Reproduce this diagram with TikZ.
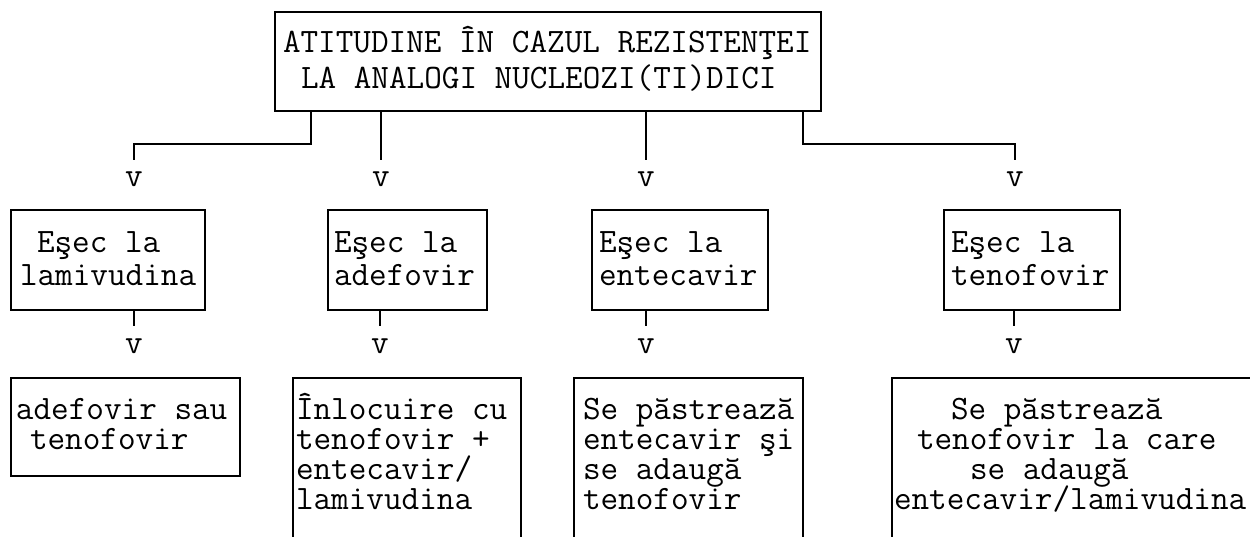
\documentclass[tikz,border=0pt]{standalone}
\usetikzlibrary{calc}
\begin{document}
\begin{tikzpicture}[x=1pt,y=-1pt,
  line width=2pt,
  box/.style={draw=black,line width=2pt,rectangle,inner sep=0pt,outer sep=0pt},
  openbox/.style={rectangle,inner sep=0pt,outer sep=0pt},
  txt/.style={anchor=base west,inner sep=0pt,outer sep=0pt,text height=20pt,text depth=5pt,font=\ttfamily\fontsize{34.2}{36}\selectfont},
  arr/.style={anchor=north,inner xsep=0pt,outer sep=0pt,font=\ttfamily\fontsize{34.2}{36}\selectfont}]
\useasboundingbox (0,0) rectangle (1250,537);
% top box
\node[box,minimum width=546pt,minimum height=99pt] (top) at (548,61.5) {};
\node[txt] (t1) at (283,53) {ATITUDINE ÎN CAZUL REZISTENŢEI};
\node[txt] (t2) at (301,89) {LA ANALOGI NUCLEOZI(TI)DICI};
% first arrow row
\node[arr,inner ysep=12pt] (v1) at (134,160) {v};
\node[arr,inner ysep=12pt] (v2) at (381,160) {v};
\node[arr,inner ysep=12pt] (v3) at (646,160) {v};
\node[arr,inner ysep=12pt] (v4) at (1015,160) {v};
\draw ([xshift=36pt]top.south west) |- ([yshift=16pt]v1.north) -- (v1.north);
\draw (top.south -| v2.north) -- (v2.north);
\draw (top.south -| v3.north) -- (v3.north);
\draw ([xshift=-18pt]top.south east) |- ([yshift=16pt]v4.north) -- (v4.north);
% second row boxes
\node[box,minimum width=194pt,minimum height=100pt] (b1) at (108,260) {};
\node[box,minimum width=159pt,minimum height=100pt] (b2) at (407.5,260) {};
\node[box,minimum width=176pt,minimum height=100pt] (b3) at (680,260) {};
\node[box,minimum width=176pt,minimum height=100pt] (b4) at (1032,260) {};
\node[txt] (b1a) at (37,253) {Eşec la};
\node[txt] (b1b) at (20,286) {lamivudina};
\node[txt] (b2a) at (334,253) {Eşec la};
\node[txt] (b2b) at (334,286) {adefovir};
\node[txt] (b3a) at (599,253) {Eşec la};
\node[txt] (b3b) at (599,286) {entecavir};
\node[txt] (b4a) at (951,253) {Eşec la};
\node[txt] (b4b) at (951,286) {tenofovir};
% second arrow row
\node[arr,inner ysep=13pt] (w1) at (134,326) {v};
\node[arr,inner ysep=13pt] (w2) at (380,326) {v};
\node[arr,inner ysep=13pt] (w3) at (646,326) {v};
\node[arr,inner ysep=13pt] (w4) at (1014,326) {v};
\draw (b1.south -| w1.north) -- (w1.north);
\draw (b2.south -| w2.north) -- (w2.north);
\draw (b3.south -| w3.north) -- (w3.north);
\draw (b4.south -| w4.north) -- (w4.north);
% bottom boxes
\node[box,minimum width=229pt,minimum height=98pt] (c1) at (125.5,427) {};
\node[openbox,minimum width=228pt,minimum height=159pt] (c2) at (407,457.5) {};
\node[openbox,minimum width=229pt,minimum height=159pt] (c3) at (688.5,457.5) {};
\node[openbox,minimum width=358pt,minimum height=159pt] (c4) at (1071,457.5) {};
\draw (c2.south west) -- (c2.north west) -- (c2.north east) -- (c2.south east);
\draw (c3.south west) -- (c3.north west) -- (c3.north east) -- (c3.south east);
\draw (c4.south west) -- (c4.north west) -- (c4.north east);
\node[txt] (c1a) at (16,419) {adefovir sau};
\node[txt] (c1b) at (30,449) {tenofovir};
\node[txt] (c2a) at (296,419) {Înlocuire cu};
\node[txt] (c2b) at (296,449) {tenofovir +};
\node[txt] (c2c) at (296,479) {entecavir/};
\node[txt] (c2d) at (296,509) {lamivudina};
\node[txt] (c3a) at (583,419) {Se păstrează};
\node[txt] (c3b) at (583,449) {entecavir şi};
\node[txt] (c3c) at (583,479) {se adaugă};
\node[txt] (c3d) at (583,509) {tenofovir};
\node[txt] (c4a) at (951,419) {Se păstrează};
\node[txt] (c4b) at (917,449) {tenofovir la care};
\node[txt] (c4c) at (970,479) {se adaugă};
\node[txt] (c4d) at (894,509) {entecavir/lamivudina};
\end{tikzpicture}
\end{document}
